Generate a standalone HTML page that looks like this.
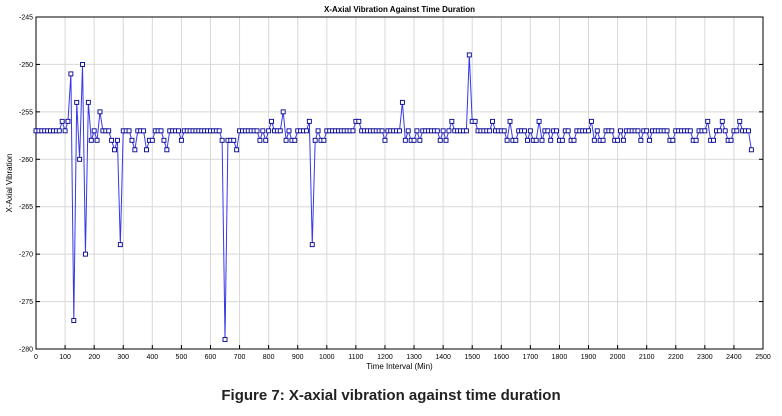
<!DOCTYPE html>
<html><head><meta charset="utf-8"><style>
body{margin:0;background:#fff;width:782px;height:411px;overflow:hidden;font-family:"Liberation Sans",sans-serif}
</style></head><body>
<svg id="c" width="782" height="411" xmlns="http://www.w3.org/2000/svg"></svg>
<script>
const xTicks=[0,100,200,300,400,500,600,700,800,900,1000,1100,1200,1300,1400,1500,1600,1700,1800,1900,2000,2100,2200,2300,2400,2500];
const yTicks=[-245,-250,-255,-260,-265,-270,-275,-280];
const stepMin=10;
const values=[
-257,-257,-257,-257,-257,-257,-257,-257,-257,-256,
-257,-256,-251,-277,-254,-260,-250,-270,-254,-258,
-257,-258,-255,-257,-257,-257,-258,-259,-258,-269,
-257,-257,-257,-258,-259,-257,-257,-257,-259,-258,
-258,-257,-257,-257,-258,-259,-257,-257,-257,-257,
-258,-257,-257,-257,-257,-257,-257,-257,-257,-257,
-257,-257,-257,-257,-258,-279,-258,-258,-258,-259,
-257,-257,-257,-257,-257,-257,-257,-258,-257,-258,
-257,-256,-257,-257,-257,-255,-258,-257,-258,-258,
-257,-257,-257,-257,-256,-269,-258,-257,-258,-258,
-257,-257,-257,-257,-257,-257,-257,-257,-257,-257,
-256,-256,-257,-257,-257,-257,-257,-257,-257,-257,
-258,-257,-257,-257,-257,-257,-254,-258,-257,-258,
-258,-257,-258,-257,-257,-257,-257,-257,-257,-258,
-257,-258,-257,-256,-257,-257,-257,-257,-257,-249,
-256,-256,-257,-257,-257,-257,-257,-256,-257,-257,
-257,-257,-258,-256,-258,-258,-257,-257,-257,-258,
-257,-258,-258,-256,-258,-257,-257,-258,-257,-257,
-258,-258,-257,-257,-258,-258,-257,-257,-257,-257,
-257,-256,-258,-257,-258,-258,-257,-257,-257,-258,
-258,-257,-258,-257,-257,-257,-257,-257,-258,-257,
-257,-258,-257,-257,-257,-257,-257,-257,-258,-258,
-257,-257,-257,-257,-257,-257,-258,-258,-257,-257,
-257,-256,-258,-258,-257,-257,-256,-257,-258,-258,
-257,-257,-256,-257,-257,-257,-259];
const L=36,R=763,T=17,B=349;
const X=v=>L+(v-0)/2500*(R-L);
const Y=v=>T+(-245-v)/35*(B-T);
const svg=document.getElementById('c');
const NS='http://www.w3.org/2000/svg';
function mk(t,a,txt){const e=document.createElementNS(NS,t);for(const k in a)e.setAttribute(k,a[k]);if(txt!=null)e.textContent=txt;svg.appendChild(e);return e;}
let e=mk('rect',{x:L,y:T,width:R-L,height:B-T,fill:'#fff'});


xTicks.forEach(t=>{
 let g=mk('line',{x1:X(t),x2:X(t),y1:T,y2:B,stroke:'#d8d8d8','stroke-width':1});
 
 
 let tk=mk('line',{x1:X(t),x2:X(t),y1:B,y2:B-4,stroke:'#000'});
 
 
 let lb=mk('text',{x:X(t),y:B+10,'font-size':7,'text-anchor':'middle',fill:'#000'},t);
 
 
});
yTicks.forEach(t=>{
 let g=mk('line',{x1:L,x2:R,y1:Y(t),y2:Y(t),stroke:'#d8d8d8','stroke-width':1});
 
 
 let tk=mk('line',{x1:L,x2:L+4,y1:Y(t),y2:Y(t),stroke:'#000'});
 
 
 let tk2=mk('line',{x1:R,x2:R-4,y1:Y(t),y2:Y(t),stroke:'#000'});
 
 
 let lb=mk('text',{x:L-3,y:Y(t)+2.5,'font-size':7,'text-anchor':'end',fill:'#000'},t);
 
 
});
e=mk('rect',{x:L,y:T,width:R-L,height:B-T,fill:'none',stroke:'#000','stroke-width':1});


const pts=values.map((v,i)=>X(i*stepMin)+','+Y(v)).join(' ');
e=mk('polyline',{points:pts,fill:'none',stroke:'#3838e8','stroke-width':1});


values.forEach((v,i)=>{
 let m=mk('rect',{x:X(i*stepMin)-2,y:Y(v)-2,width:4,height:4,fill:'#fff',stroke:'#000090','stroke-width':0.9});
 
 
});
e=mk('text',{x:(L+R)/2,y:12,'font-size':8,'font-weight':'bold','text-anchor':'middle'},'X-Axial Vibration Against Time Duration');


e=mk('text',{x:(L+R)/2,y:369,'font-size':8,'text-anchor':'middle'},'Time Interval (Min)');


e=mk('text',{x:12,y:(T+B)/2,'font-size':8,'text-anchor':'middle',transform:'rotate(-90 12 '+((T+B)/2)+')'},'X-Axial Vibration');


e=mk('text',{x:391,y:400,'font-size':15,'font-weight':'bold','text-anchor':'middle',fill:'#222'},'Figure 7: X-axial vibration against time duration');


</script>
</body></html>
